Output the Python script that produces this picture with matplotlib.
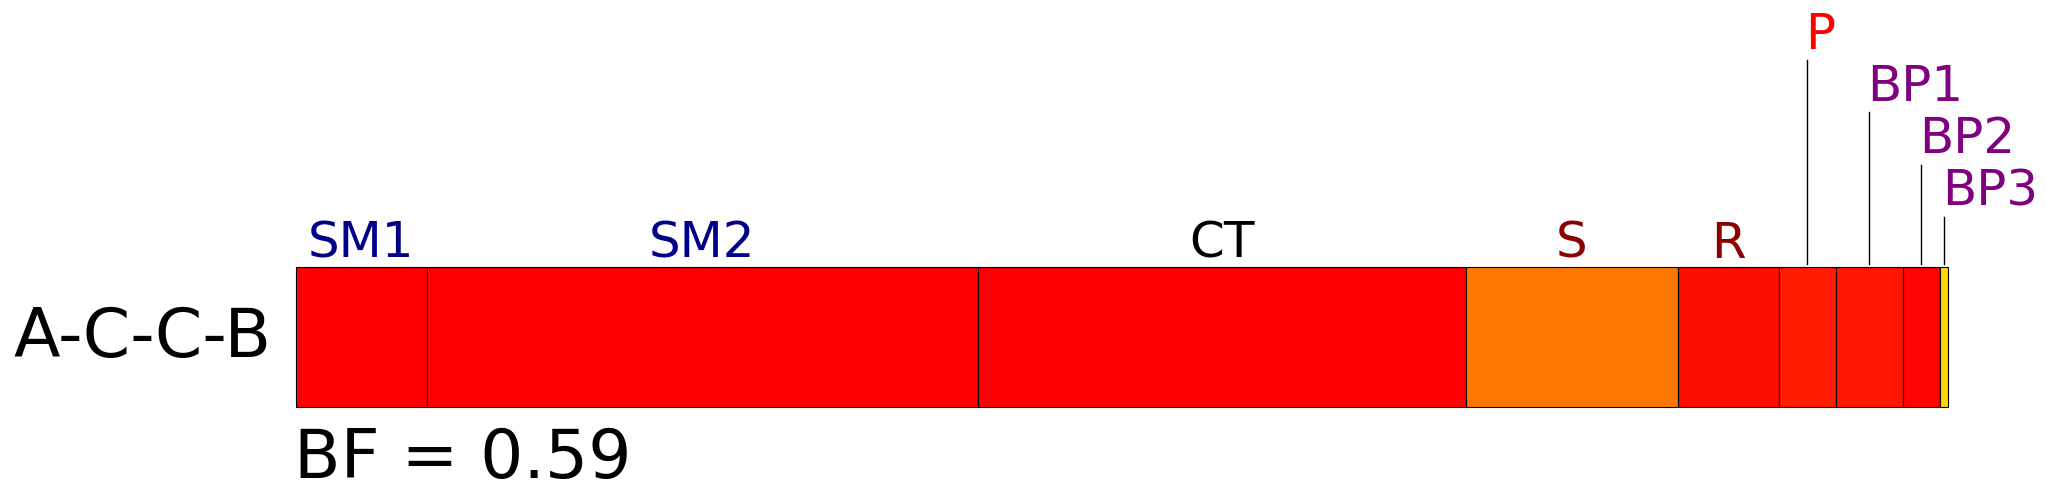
"""
Domain map of A-C-C-B as one horizontal stacked bar, with labelled segments.
Output: out.png (2046x502)
"""

import numpy as np
import matplotlib.pyplot as plt


# segment names, lengths and colours (left to right)
segments = ["SM1", "SM2", "CT", "S", "R", "P", "BP1", "BP2", "BP3"]
lengths = [131, 551, 488, 212, 101, 57, 67, 37, 8]
seg_colors = ["#ff0000", "#ff0000", "#ff0000", "#ff7700", "#fc0d00",
              "#ff1c00", "#ff1600", "#ff0300", "#ffd700"]

# label colour and stacking level (0 = just above the bar)
label_colors = ["darkblue", "darkblue", "black", "darkred", "darkred",
                "red", "purple", "purple", "purple"]
label_levels = [0, 0, 0, 0, 0, 4, 3, 2, 1]

row_name = "A-C-C-B"
bf_value = 0.59

LABEL_SIZE = 36
BIG_SIZE = 49
LEVEL_STEP = 0.373


def main():
    fig = plt.figure(figsize=(20.46, 5.02), dpi=100)
    ax = fig.add_axes([0, 0, 1, 1])

    lengths_arr = np.array(lengths, dtype=float)
    starts = np.concatenate([[0], np.cumsum(lengths_arr)[:-1]])
    centers = starts + lengths_arr / 2

    ax.barh(0, lengths_arr, left=starts, height=1.0, color=seg_colors,
            edgecolor="black", linewidth=0.8)

    for name, cx, col, lvl in zip(segments, centers, label_colors, label_levels):
        ty = 0.574 + lvl * LEVEL_STEP
        if lvl == 0:
            ax.text(cx, ty, name, color=col, fontsize=LABEL_SIZE,
                    ha="center", va="baseline")
        else:
            ax.plot([cx, cx], [0.524, ty - 0.087], color="black", lw=1.0)
            ax.text(cx - 2, ty, name, color=col, fontsize=LABEL_SIZE,
                    ha="left", va="baseline")

    ax.text(-24, -0.131, row_name, fontsize=BIG_SIZE, ha="right", va="baseline")
    ax.text(-2, -1.0, f"BF = {bf_value:.2f}", fontsize=BIG_SIZE,
            ha="left", va="baseline")

    ax.set_xlim(-295.7, 2046 - 295.7)
    ax.set_ylim(-1.169, 2.416)
    ax.axis("off")

    fig.savefig("out.png", dpi=100, facecolor="white")
    plt.close(fig)


if __name__ == "__main__":
    main()
